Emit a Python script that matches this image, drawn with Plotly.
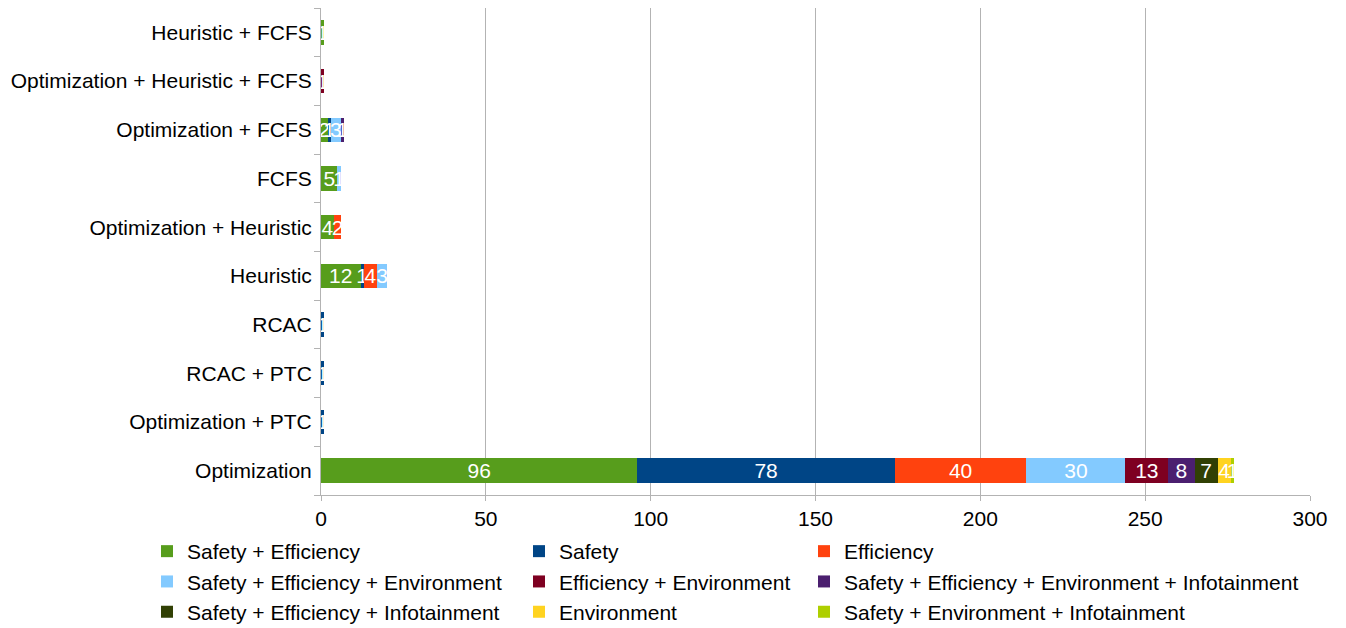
import plotly.graph_objects as go

categories = ["Optimization", "Optimization + PTC", "RCAC + PTC", "RCAC", "Heuristic",
              "Optimization + Heuristic", "FCFS", "Optimization + FCFS",
              "Optimization + Heuristic + FCFS", "Heuristic + FCFS"]

series_names = ["Safety + Efficiency", "Safety", "Efficiency",
                "Safety + Efficiency + Environment", "Efficiency + Environment",
                "Safety + Efficiency + Environment + Infotainment",
                "Safety + Efficiency + Infotainment", "Environment",
                "Safety + Environment + Infotainment"]

safety_efficiency = [96, 0, 0, 0, 12, 4, 5, 2, 0, 1]
safety = [78, 1, 1, 1, 1, 0, 0, 1, 0, 0]
efficiency = [40, 0, 0, 0, 4, 2, 0, 0, 0, 0]
safety_eff_env = [30, 0, 0, 0, 3, 0, 1, 3, 0, 0]
eff_env = [13, 0, 0, 0, 0, 0, 0, 0, 1, 0]
safety_eff_env_info = [8, 0, 0, 0, 0, 0, 0, 1, 0, 0]
safety_eff_info = [7, 0, 0, 0, 0, 0, 0, 0, 0, 0]
environment = [4, 0, 0, 0, 0, 0, 0, 0, 0, 0]
safety_env_info = [1, 0, 0, 0, 0, 0, 0, 0, 0, 0]

series_values = [safety_efficiency, safety, efficiency, safety_eff_env, eff_env,
                 safety_eff_env_info, safety_eff_info, environment, safety_env_info]
colors = ["#579d1c", "#004586", "#ff420e", "#83caff", "#7e0021",
          "#4b1f6f", "#314004", "#ffd320", "#aecf00"]
x_ticks = [0, 50, 100, 150, 200, 250, 300]

FONT = "Liberation Sans, Arial, sans-serif"
FS = 21
legend_ids = ["legend", "legend2", "legend3"]

fig = go.Figure()
for i, (name, vals, col) in enumerate(zip(series_names, series_values, colors)):
    texts = [str(v) if v else "" for v in vals]
    fig.add_trace(go.Bar(
        y=categories, x=vals, name=name, orientation="h",
        marker=dict(color=col, line=dict(width=0)),
        text=texts, textposition="inside", insidetextanchor="middle",
        constraintext="none", cliponaxis=False, textangle=0,
        textfont=dict(color="white", size=FS, family=FONT),
        legend=legend_ids[i % 3],
        hoverinfo="x+y+name",
    ))

PL, PR, PT, PB = 321, 1310, 8, 495
PW, PH = PR - PL, PB - PT
leg_common = dict(orientation="v", yanchor="top", y=(PB - 531) / PH, xanchor="left",
                  traceorder="normal",
                  font=dict(size=FS, family=FONT, color="black"),
                  itemwidth=30, bgcolor="rgba(0,0,0,0)")
fig.update_layout(
    width=1346, height=628,
    margin=dict(l=PL, r=1346 - PR, t=PT, b=628 - PB, autoexpand=False),
    plot_bgcolor="white", paper_bgcolor="white",
    barmode="stack", bargap=0.5,
    font=dict(family=FONT, size=FS, color="black"),
    legend=dict(x=(147 - PL) / PW, **leg_common),
    legend2=dict(x=(519 - PL) / PW, **leg_common),
    legend3=dict(x=(804 - PL) / PW, **leg_common),
    xaxis=dict(range=[0, 300], tickvals=x_ticks, showgrid=True, gridcolor="#b3b3b3",
               gridwidth=1, showline=True, linecolor="#b3b3b3", linewidth=1,
               ticks="outside", ticklen=5, tickcolor="#b3b3b3", automargin=False,
               tickfont=dict(size=FS, family=FONT, color="black"), zeroline=False),
    yaxis=dict(categoryorder="array", categoryarray=categories, showline=True,
               linecolor="#b3b3b3", linewidth=1, ticks="outside", ticklen=6,
               tickcolor="#b3b3b3", tickson="boundaries", showgrid=False,
               ticklabelstandoff=4, automargin=False,
               tickfont=dict(size=FS, family=FONT, color="black")),
)
fig.write_html("out.html")
